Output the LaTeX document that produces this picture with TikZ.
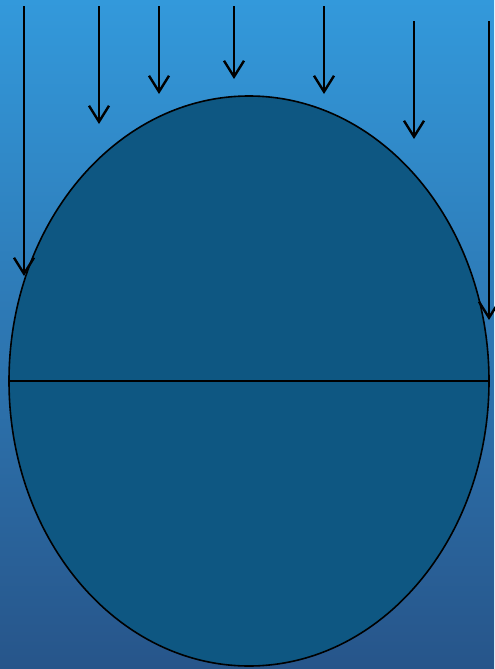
\documentclass[tikz,border=0pt]{standalone}
\usetikzlibrary{arrows.meta,shapes.geometric}
\definecolor{bgtop}{HTML}{3399DB}
\definecolor{bgbot}{HTML}{27558A}
\definecolor{body}{HTML}{0E5782}
\tikzset{
  ray/.style={draw=black,line width=1.2pt,-{Straight Barb[length=8pt,width=10pt,line width=1.2pt]}},
  globe/.style={ellipse,draw=black,line width=0.8pt,fill=body,minimum width=240pt,minimum height=285pt,inner sep=0pt}
}
\begin{document}
\begin{tikzpicture}[x=0.5pt,y=-0.5pt]
\shade[top color=bgtop,bottom color=bgbot] (0,0) rectangle (494,669);
\useasboundingbox (0,0) rectangle (494,669);
\node[globe] (g) at (249,381) {};
\draw[line width=0.8pt] (g.west) -- (g.east);
\foreach \n/\x/\ya/\yb in {a/24/6/276,b/99/6/124,c/159/6/94,d/234/6/79,e/324/6/94,f/414/21/139,h/489/21/320}{
  \coordinate (s\n) at (\x,\ya);
  \coordinate (t\n) at (\x,\yb);
  \draw[ray] (s\n) -- (t\n);
}
\end{tikzpicture}
\end{document}
